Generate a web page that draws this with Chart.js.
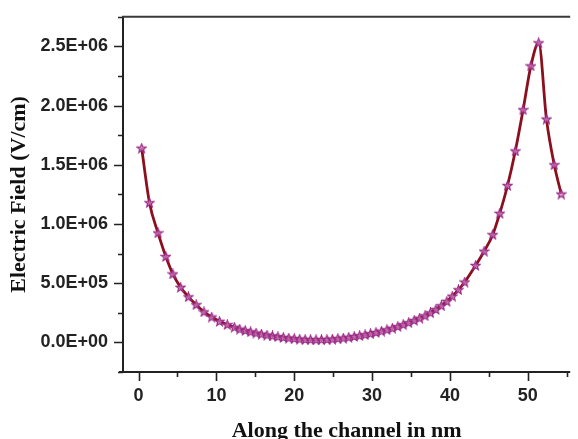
<!DOCTYPE html>
<html>
<head>
<meta charset="utf-8">
<script src="https://cdn.jsdelivr.net/npm/chart.js@4/dist/chart.umd.min.js"></script>
<style>
  html, body { margin: 0; padding: 0; background: #fff; overflow: hidden; }
  #wrap { width: 578px; height: 439px; position: relative; }
</style>
</head>
<body>
<div id="wrap"><canvas id="fieldChart"></canvas></div>
<script>
// Position along the channel (nm)
const channelPos = [
  0.4, 1.4, 2.5, 3.5, 4.4, 5.4, 6.4, 7.4, 8.4, 9.4, 10.4, 11.4, 12.3,
  13.0, 13.7, 14.4, 15.1, 15.8, 16.5, 17.2, 17.9, 18.6, 19.3, 20.0, 20.7,
  21.4, 22.1, 22.8, 23.5, 24.2, 24.9, 25.6, 26.3, 27.0, 27.7, 28.4, 29.1,
  29.8, 30.5, 31.2, 31.9, 32.6, 33.3, 34.0, 34.7, 35.4, 36.1, 36.8, 37.5,
  38.2, 38.9, 39.6, 40.3, 41.1, 41.9, 43.3, 44.4, 45.5, 46.4, 47.4, 48.4,
  49.4, 50.4, 51.4, 52.4, 53.4, 54.3
];

// Electric field (V/cm)
const fieldValues = [
  1.64e6, 1.18e6, 9.25e5, 7.25e5, 5.78e5, 4.65e5, 3.85e5, 3.18e5, 2.58e5, 2.14e5, 1.78e5, 1.50e5, 1.28e5,
  1.12e5, 1.00e5, 8.9e4, 7.9e4, 7.0e4, 6.2e4, 5.5e4, 4.8e4, 4.2e4, 3.7e4, 3.2e4, 2.8e4,
  2.5e4, 2.3e4, 2.2e4, 2.3e4, 2.5e4, 2.8e4, 3.2e4, 3.7e4, 4.3e4, 5.0e4, 5.7e4, 6.5e4,
  7.4e4, 8.4e4, 9.5e4, 1.07e5, 1.20e5, 1.34e5, 1.50e5, 1.67e5, 1.86e5, 2.05e5, 2.25e5, 2.50e5,
  2.78e5, 3.10e5, 3.47e5, 3.90e5, 4.45e5, 5.10e5, 6.50e5, 7.70e5, 9.10e5, 1.09e6, 1.325e6, 1.617e6,
  1.965e6, 2.335e6, 2.53e6, 1.886e6, 1.50e6, 1.253e6
];

// Axis ticks
const xTicks = [0, 10, 20, 30, 40, 50];
const xMinorTicks = [5, 15, 25, 35, 45, 55];
const yTicks = [0, 5e5, 1e6, 1.5e6, 2e6, 2.5e6];
const yMinorTicks = [-2.5e5, 2.5e5, 7.5e5, 1.25e6, 1.75e6, 2.25e6, 2.75e6];

// "2.5E+06" style labels
function sciLabel(v) {
  const [m, e] = Number(v).toExponential(1).split("e");
  return m + "E" + e[0] + e.slice(1).padStart(2, "0");
}

// small outlined star used as the point marker
function makeStar() {
  const c = document.createElement("canvas");
  c.width = 11;
  c.height = 11;
  const g = c.getContext("2d");
  g.beginPath();
  for (let i = 0; i < 10; i++) {
    const r = i % 2 === 0 ? 4.7 : 2.0;
    const a = -Math.PI / 2 + (i * Math.PI) / 5;
    const px = 5.5 + r * Math.cos(a);
    const py = 5.8 + r * Math.sin(a);
    if (i === 0) g.moveTo(px, py);
    else g.lineTo(px, py);
  }
  g.closePath();
  g.fillStyle = "rgba(214,130,200,0.75)";
  g.fill();
  g.strokeStyle = "#962783";
  g.lineWidth = 1.2;
  g.stroke();
  return c;
}

// frame lines plus major/minor tick marks
const axisFrame = {
  id: "axisFrame",
  afterDraw(chart) {
    const { ctx, chartArea: a, scales } = chart;
    const x = scales.x, y = scales.y;
    ctx.save();
    ctx.strokeStyle = "#222";
    ctx.lineWidth = 2;
    ctx.beginPath();
    ctx.moveTo(a.left - 4, a.bottom);
    ctx.lineTo(a.right, a.bottom);
    ctx.moveTo(a.left, a.bottom + 1);
    ctx.lineTo(a.left, a.top);
    ctx.stroke();

    ctx.strokeStyle = "#3a3a3a";
    ctx.beginPath();
    ctx.moveTo(a.left - 1, a.top);
    ctx.lineTo(a.right, a.top);
    ctx.stroke();

    ctx.strokeStyle = "#222";
    ctx.lineWidth = 1.6;
    ctx.beginPath();
    xTicks.forEach((v) => {
      const px = Math.round(x.getPixelForValue(v)) + 0.5;
      ctx.moveTo(px, a.bottom);
      ctx.lineTo(px, a.bottom + 9);
    });
    xMinorTicks.forEach((v) => {
      const px = Math.round(x.getPixelForValue(v)) + 0.5;
      ctx.moveTo(px, a.bottom);
      ctx.lineTo(px, a.bottom + 5);
    });
    yTicks.forEach((v) => {
      const py = Math.round(y.getPixelForValue(v)) + 0.5;
      ctx.moveTo(a.left, py);
      ctx.lineTo(a.left - 9, py);
    });
    yMinorTicks.forEach((v) => {
      const py = Math.round(y.getPixelForValue(v)) + 0.5;
      ctx.moveTo(a.left, py);
      ctx.lineTo(a.left - 5, py);
    });
    ctx.stroke();
    ctx.restore();
  },
};

const points = channelPos.map((x, i) => ({ x: x, y: fieldValues[i] }));

new Chart(document.getElementById("fieldChart"), {
  type: "line",
  data: {
    datasets: [
      {
        data: points,
        borderColor: "#8b0f1c",
        borderWidth: 2.8,
        cubicInterpolationMode: "monotone",
        pointStyle: makeStar(),
        pointRadius: 5,
        pointHoverRadius: 5,
      },
    ],
  },
  options: {
    responsive: true,
    maintainAspectRatio: false,
    animation: false,
    events: [],
    layout: { padding: { top: 15, right: 0, bottom: 0, left: 0 } },
    plugins: { legend: { display: false }, tooltip: { enabled: false } },
    scales: {
      x: {
        type: "linear",
        min: -2,
        max: 55.45,
        afterBuildTicks: (s) => { s.ticks = xTicks.map((v) => ({ value: v })); },
        afterFit: (s) => { s.height = 67; },
        grid: { display: false, drawTicks: true, tickLength: 9 },
        border: { display: false },
        ticks: {
          autoSkip: false,
          maxRotation: 0,
          padding: 4,
          color: "#222",
          font: { family: "Liberation Sans", size: 18, weight: "bold" },
        },
        title: {
          display: true,
          text: "Along the channel in nm",
          color: "#111",
          padding: 0,
          font: { family: "Liberation Serif", size: 22, weight: "bold", lineHeight: 0.72 },
        },
      },
      y: {
        type: "linear",
        min: -2.5e5,
        max: 2.75e6,
        afterBuildTicks: (s) => { s.ticks = yTicks.map((v) => ({ value: v })); },
        afterFit: (s) => { s.width = 123; },
        grid: { display: false, drawTicks: true, tickLength: 9 },
        border: { display: false },
        ticks: {
          padding: 6,
          color: "#222",
          callback: (v) => sciLabel(v),
          font: { family: "Liberation Sans", size: 18, weight: "bold" },
        },
        title: {
          display: true,
          text: "Electric Field (V/cm)",
          color: "#111",
          padding: { top: 6, bottom: 0 },
          font: { family: "Liberation Serif", size: 22, weight: "bold", lineHeight: 1.2 },
        },
      },
    },
  },
  plugins: [axisFrame],
});
</script>
</body>
</html>
